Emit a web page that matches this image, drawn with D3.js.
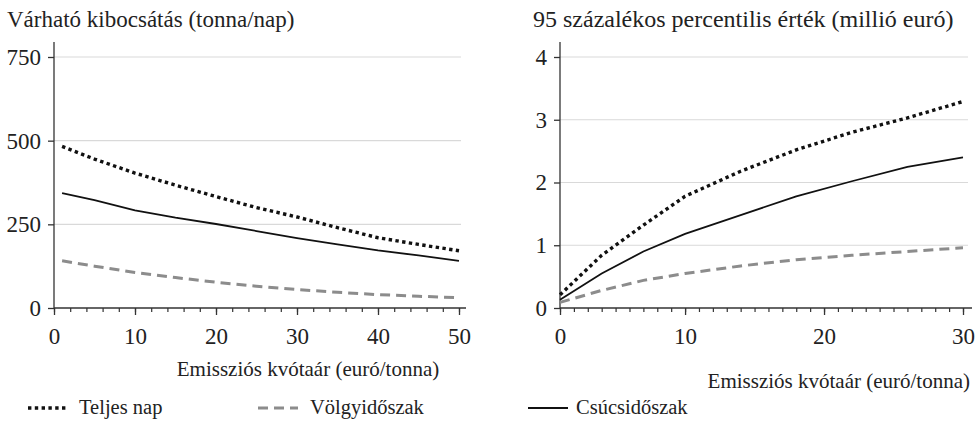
<!DOCTYPE html>
<meta charset="utf-8">
<style>
  body { margin: 0; background: #fff; }
  svg text { font-family: "Liberation Serif", serif; fill: #222; }
</style>
<body>
<svg id="chart" width="976" height="422"></svg>
<script src="https://cdn.jsdelivr.net/npm/d3@7"></script>
<script>
// bal panel: várható kibocsátás
var xLeft = [1, 5, 10, 15, 20, 25, 30, 35, 40, 45, 50];
var teljesLeft = [483, 445, 403, 367, 333, 300, 272, 240, 210, 190, 171];
var volgyLeft = [141, 125, 106, 91, 77, 65, 55, 47, 40, 35, 31];
var csucsLeft = [343, 322, 292, 270, 251, 230, 209, 190, 172, 157, 141];
var yTicksLeft = [0, 250, 500, 750];
var xTicksLeft = [0, 10, 20, 30, 40, 50];

// jobb panel: 95 százalékos percentilis
var xRight = [1, 4, 7, 10, 14, 18, 22, 26, 30];
var teljesRight = [0.21, 0.84, 1.32, 1.78, 2.18, 2.52, 2.80, 3.03, 3.29];
var volgyRight = [0.09, 0.28, 0.44, 0.55, 0.67, 0.77, 0.84, 0.90, 0.96];
var csucsRight = [0.13, 0.55, 0.90, 1.18, 1.48, 1.78, 2.02, 2.25, 2.40];
var yTicksRight = [0, 1, 2, 3, 4];
var xTicksRight = [1, 10, 20, 30];
var xTickLabelsRight = ["0", "10", "20", "30"];

var seriesNames = ["Teljes nap", "Völgyidőszak", "Csúcsidőszak"];
var styles = [
  { stroke: "#111", width: 3.4, dash: "3.4,3.4" },
  { stroke: "#8c8c8c", width: 3, dash: "10,6" },
  { stroke: "#111", width: 1.8, dash: null }
];

var svg = d3.select("#chart");
var fs = 23;
var serif = '"Liberation Serif", serif';

function panel(opt) {
  var g = svg.append("g");
  var x = d3.scaleLinear().domain(opt.xDomain).range(opt.xRange);
  var y = d3.scaleLinear().domain(opt.yDomain).range([308, 57]);

  // rácsvonalak
  g.selectAll(".grid").data(opt.yTicks.filter(function (d) { return d > 0; }))
    .enter().append("line")
    .attr("x1", opt.xRange[0]).attr("x2", opt.gridEnd)
    .attr("y1", function (d) { return y(d); }).attr("y2", function (d) { return y(d); })
    .attr("stroke", "#d9d9d9").attr("stroke-width", 1.2);

  // y tengely
  g.append("line").attr("x1", opt.xRange[0]).attr("x2", opt.xRange[0])
    .attr("y1", 42).attr("y2", y(0)).attr("stroke", "#333").attr("stroke-width", 1.3);
  var ya = g.append("g").attr("transform", "translate(" + opt.xRange[0] + ",0)")
    .call(d3.axisLeft(y).tickValues(opt.yTicks).tickSize(6).tickSizeOuter(0).tickPadding(7)
      .tickFormat(d3.format("d")));
  ya.select(".domain").remove();
  ya.selectAll("line").attr("stroke", "#333").attr("stroke-width", 1.3);
  ya.selectAll("text").attr("font-size", fs).style("font-family", serif).attr("fill", "#222");

  // x tengely
  g.append("line").attr("x1", opt.xRange[0]).attr("x2", opt.axisEnd)
    .attr("y1", y(0)).attr("y2", y(0)).attr("stroke", "#333").attr("stroke-width", 1.3);
  var minor = g.append("g").attr("transform", "translate(0," + y(0) + ")")
    .call(d3.axisBottom(x).tickValues(opt.minorTicks).tickSize(4).tickFormat(""));
  minor.select(".domain").remove();
  minor.selectAll("line").attr("stroke", "#333").attr("stroke-width", 1.2);
  var xa = g.append("g").attr("transform", "translate(0," + y(0) + ")")
    .call(d3.axisBottom(x).tickValues(opt.xTicks).tickSize(7).tickPadding(13)
      .tickFormat(function (d, i) { return opt.xLabels[i]; }));
  xa.select(".domain").remove();
  xa.selectAll("line").attr("stroke", "#333").attr("stroke-width", 1.3);
  xa.selectAll("text").attr("font-size", fs).style("font-family", serif).attr("fill", "#222");

  // vonalak
  var line = d3.line().x(function (d) { return x(d[0]); }).y(function (d) { return y(d[1]); });
  opt.series.forEach(function (vals, i) {
    var s = styles[i];
    g.append("path")
      .datum(opt.xs.map(function (v, j) { return [v, vals[j]]; }))
      .attr("d", line)
      .attr("fill", "none")
      .attr("stroke", s.stroke)
      .attr("stroke-width", s.width)
      .attr("stroke-dasharray", s.dash);
  });

  g.append("text").attr("x", opt.titleX).attr("y", 27).attr("font-size", opt.titleSize)
    .style("font-family", serif).text(opt.title);
  g.append("text").attr("x", opt.xTitleX).attr("y", opt.xTitleY).attr("font-size", 21)
    .style("font-family", serif).attr("text-anchor", opt.xTitleAnchor)
    .text("Emissziós kvótaár (euró/tonna)");
}

panel({
  xDomain: [0, 50], xRange: [54, 459], yDomain: [0, 750],
  axisEnd: 466, gridEnd: 461,
  yTicks: yTicksLeft, xTicks: xTicksLeft,
  xLabels: xTicksLeft.map(String),
  minorTicks: d3.range(0, 51, 2),
  xs: xLeft, series: [teljesLeft, volgyLeft, csucsLeft],
  title: "Várható kibocsátás (tonna/nap)", titleX: 7, titleSize: 23,
  xTitleX: 308, xTitleY: 376, xTitleAnchor: "middle"
});

panel({
  xDomain: [1, 30], xRange: [560, 963], yDomain: [0, 4],
  axisEnd: 972, gridEnd: 968,
  yTicks: yTicksRight, xTicks: xTicksRight,
  xLabels: xTickLabelsRight,
  minorTicks: d3.range(1, 31, 1),
  xs: xRight, series: [teljesRight, volgyRight, csucsRight],
  title: "95 százalékos percentilis érték (millió euró)", titleX: 533, titleSize: 24,
  xTitleX: 970, xTitleY: 388, xTitleAnchor: "end"
});

// jelmagyarázat
var legendX = [28, 258, 528];
var legendTextX = [79, 310, 576];
var legend = svg.append("g");
seriesNames.forEach(function (name, i) {
  var s = styles[i];
  legend.append("line")
    .attr("x1", legendX[i]).attr("x2", legendX[i] + 40)
    .attr("y1", 408).attr("y2", 408)
    .attr("stroke", s.stroke).attr("stroke-width", s.width)
    .attr("stroke-dasharray", s.dash);
  legend.append("text").attr("x", legendTextX[i]).attr("y", 414)
    .attr("font-size", 20.5).style("font-family", serif).text(name);
});
</script>
</body>
